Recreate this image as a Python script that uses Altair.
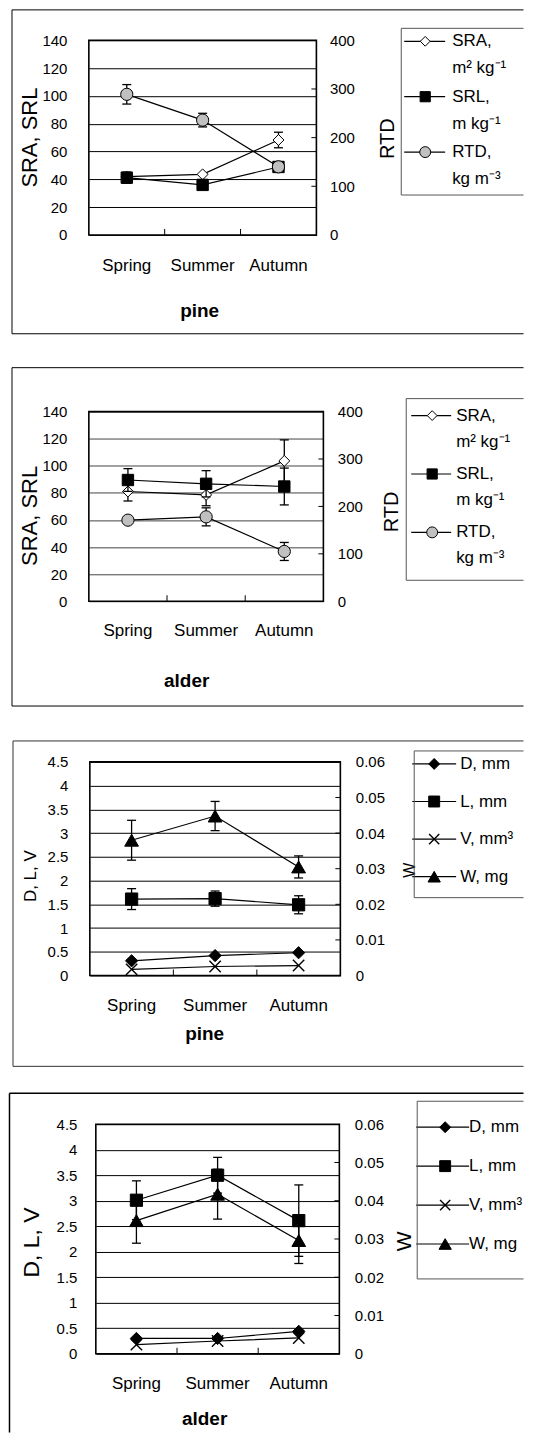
import altair as alt
import pandas as pd

FONT = "Liberation Sans"
PAGE_LEFT = 8.5
PAGE_RIGHT = 524.5
VIEW_LEFT = 89   # common left edge of every panel's view
VIEW_W = 252     # common view width (plot areas are drawn inside it)

# ---------------- data ----------------
seasons = ["Spring", "Summer", "Autumn"]
season_pos = [0, 1, 2]
boundaries = [0.5, 1.5]

# pine: specific root area, specific root length, root tissue density
pine_sra = [41.9, 43.6, 68.3]
pine_sra_err = [0, 0, 5.6]
pine_srl = [41.2, 36.0, 48.9]
pine_srl_err = [4.0, 0, 0]
pine_rtd = [289, 236, 140]
pine_rtd_err = [20, 14, 0]

# alder
alder_sra = [81.0, 78.5, 103.6]
alder_sra_err = [7.0, 8.0, 15.5]
alder_srl = [89.5, 86.7, 84.7]
alder_srl_err = [8.4, 9.7, 13.6]
alder_rtd = [171, 178, 105]
alder_rtd_err = [4, 19, 19]

# pine: D, L, V (left axis) and W (right axis)
pine_d = [0.31, 0.42, 0.48]
pine_l = [1.61, 1.62, 1.49]
pine_l_err = [0.22, 0.16, 0.19]
pine_v = [0.13, 0.19, 0.21]
pine_w = [0.0380, 0.0448, 0.0305]
pine_w_err = [0.0056, 0.0041, 0.0031]

# alder: D, L, V, W
alder_d = [0.30, 0.30, 0.44]
alder_l = [3.01, 3.50, 2.61]
alder_l_err = [0.38, 0.35, 0.70]
alder_v = [0.18, 0.25, 0.31]
alder_w = [0.0348, 0.0417, 0.0296]
alder_w_err = [0.0059, 0.0065, 0.0060]

# axis ticks
left_ticks_a = [0, 20, 40, 60, 80, 100, 120, 140]
right_ticks_a = [0, 100, 200, 300, 400]
left_ticks_b = [0, 0.5, 1, 1.5, 2, 2.5, 3, 3.5, 4, 4.5]
right_ticks_b = [0, 0.01, 0.02, 0.03, 0.04, 0.05, 0.06]

# legend texts
legend_a_keys = ["SRA", "SRL", "RTD"]
legend_a_names = ["SRA,", "SRL,", "RTD,"]
legend_a_units = ["m\u00b2 kg\u207b\u00b9", "m kg\u207b\u00b9", "kg m\u207b\u00b3"]
legend_b_keys = ["D", "L", "V", "W"]
legend_b_names = ["D, mm", "L, mm", "V, mm\u00b3", "W, mg"]
legend_b_units = ["", "", "", ""]

# ---------------- styles ----------------
CROSS = "M-1,-1L1,1M-1,1L1,-1"
STYLE = {
    "SRA": dict(shape="diamond", fill="white", size=120),
    "SRL": dict(shape="square", fill="black", size=130),
    "RTD": dict(shape="circle", fill="#c0c0c0", size=150),
    "D": dict(shape="diamond", fill="black", size=150),
    "L": dict(shape="square", fill="black", size=150),
    "V": dict(shape=CROSS, fill=None, size=130),
    "W": dict(shape="triangle-up", fill="black", size=190),
}


def marker_props(key, legend=False):
    st = STYLE[key]
    size = st["size"] * (0.8 if legend else 1.0)
    if st["fill"] is None:
        return dict(shape=st["shape"], filled=False, stroke="black",
                    strokeWidth=1.4, size=size, opacity=1)
    return dict(shape=st["shape"], filled=True, fill=st["fill"], stroke="black",
                strokeWidth=1, size=size, opacity=1)


def y_enc(field, scale, axis):
    return alt.Y(f"{field}:Q", scale=scale, axis=axis)


def series_layers(key, values, errs, xs, scale, axis):
    x = alt.X("pos:Q", scale=xs, axis=None)
    df = pd.DataFrame({"pos": season_pos, "value": values})
    out = [alt.Chart(df).mark_line(color="black", strokeWidth=1.2)
           .encode(x=x, y=y_enc("value", scale, axis))]
    if errs:
        pos, lo, hi = [], [], []
        for p, v, e in zip(season_pos, values, errs):
            if e > 0:
                pos.append(p)
                lo.append(v - e)
                hi.append(v + e)
        if pos:
            edf = pd.DataFrame({"pos": pos, "lo": lo, "hi": hi})
            out.append(alt.Chart(edf).mark_rule(color="black", strokeWidth=1.3)
                       .encode(x=x, y=y_enc("lo", scale, axis), y2="hi:Q"))
            cdf = pd.DataFrame({"pos": pos + pos, "cap": lo + hi})
            out.append(alt.Chart(cdf).mark_tick(orient="horizontal", size=9, thickness=1.3,
                                                color="black", opacity=1)
                       .encode(x=x, y=y_enc("cap", scale, axis)))
    out.append(alt.Chart(df).mark_point(**marker_props(key))
               .encode(x=x, y=y_enc("value", scale, axis)))
    return out


def legend_group(keys, names, units, g, L):
    n = len(keys)
    ldf = pd.DataFrame({"rank": list(range(n)), "key": keys, "name": names, "unit": units})
    ox, oy = VIEW_LEFT, g["top"]
    ys = alt.Scale(domain=[0, n - 1], range=[L["rows"][0] - oy, L["rows"][1] - oy],
                   nice=False, zero=False)
    y = alt.Y("rank:Q", scale=ys, axis=None)
    base = alt.Chart(ldf)
    limit = PAGE_RIGHT - 0.5 - L["text"]
    layers = [base.mark_rule(color="black", strokeWidth=1.2).encode(
        x=alt.value(L["line"][0] - ox), x2=alt.value(L["line"][1] - ox), y=y)]
    for k in keys:
        layers.append(base.transform_filter(alt.datum.key == k)
                      .mark_point(**marker_props(k, True))
                      .encode(x=alt.value(L["sym"] - ox), y=y))
    layers.append(base.mark_text(align="left", baseline="middle", font=FONT,
                                 fontSize=L["fs"], color="black", limit=limit, ellipsis="\u200b")
                  .encode(x=alt.value(L["text"] - ox), y=y, text="name:N"))
    if any(units):
        layers.append(base.mark_text(align="left", baseline="middle", font=FONT,
                                     fontSize=L["fs"], color="black", dy=L["unit_dy"],
                                     limit=limit, ellipsis="\u200b")
                      .encode(x=alt.value(L["text"] - ox), y=y, text="unit:N"))
    return alt.layer(*layers)


def frame_group(g):
    # plot-area border, drawn as a mark inside the common-width view
    one = alt.Chart(pd.DataFrame({"d": [0]}))
    return one.mark_rect(fillOpacity=0, stroke="black", strokeWidth=1.6).encode(
        x=alt.value(g["left"] - VIEW_LEFT), x2=alt.value(g["right"] - VIEW_LEFT),
        y=alt.value(0), y2=alt.value(g["h"]))


def deco_group(g, xs, F, B, label, label_xy):
    ox, oy, h = VIEW_LEFT, g["top"], g["h"]
    one = alt.Chart(pd.DataFrame({"d": [0]}))
    V = alt.value
    layers = []
    # invisible extent of the panel slot
    layers.append(one.mark_rule(color="white", strokeOpacity=0).encode(
        x=V(PAGE_LEFT - ox), x2=V(PAGE_RIGHT - ox),
        y=V(g["slot"][0] - oy), y2=V(g["slot"][1] - oy)))
    # outer frame (open on the right, cut by the page)
    fr = dict(color=F["color"], strokeWidth=F["width"])
    layers.append(one.mark_rule(**fr).encode(x=V(F["left"] - ox), x2=V(PAGE_RIGHT - ox), y=V(F["top"] - oy)))
    layers.append(one.mark_rule(**fr).encode(x=V(F["left"] - ox), y=V(F["top"] - oy), y2=V(F["bottom"] - oy)))
    if F.get("closed", True):
        layers.append(one.mark_rule(**fr).encode(x=V(F["left"] - ox), x2=V(PAGE_RIGHT - ox), y=V(F["bottom"] - oy)))
    # legend box
    bx = dict(color="#555555", strokeWidth=1)
    layers.append(one.mark_rule(**bx).encode(x=V(B["left"] - ox), x2=V(PAGE_RIGHT - ox), y=V(B["top"] - oy)))
    layers.append(one.mark_rule(**bx).encode(x=V(B["left"] - ox), y=V(B["top"] - oy), y2=V(B["bottom"] - oy)))
    layers.append(one.mark_rule(**bx).encode(x=V(B["left"] - ox), x2=V(PAGE_RIGHT - ox), y=V(B["bottom"] - oy)))
    # category separator ticks
    layers.append(alt.Chart(pd.DataFrame({"b": boundaries})).mark_rule(color="black", strokeWidth=1)
                  .encode(x=alt.X("b:Q", scale=xs, axis=None), y=V(h), y2=V(h - 6)))
    # season labels
    layers.append(alt.Chart(pd.DataFrame({"pos": season_pos, "season": seasons}))
                  .mark_text(font=FONT, fontSize=17, color="black", align="center", baseline="middle")
                  .encode(x=alt.X("pos:Q", scale=xs, axis=None), y=V(h + g["season_off"]),
                          text="season:N"))
    # panel label
    layers.append(one.mark_text(text=label, font=FONT, fontSize=19, fontWeight="bold", color="black",
                                align="center", baseline="middle")
                  .encode(x=V(label_xy[0] - ox), y=V(label_xy[1] - oy)))
    return alt.layer(*layers)


def axis_def(title, values, fmt, orient, label_pad, title_xy, title_size, grid,
             grid_color="black", offset=0):
    return alt.Axis(title=title, values=values, format=fmt, orient=orient, offset=offset,
                    grid=grid, gridColor=grid_color, gridWidth=1, gridOpacity=1,
                    ticks=False, domain=False, labelOverlap=False,
                    labelFont=FONT, labelFontSize=15, labelColor="black", labelPadding=label_pad,
                    titleFont=FONT, titleFontSize=title_size, titleFontWeight="normal",
                    titleColor="black", titleAngle=270, titleAlign="center",
                    titleBaseline="middle", titleX=title_xy[0], titleY=title_xy[1])


def make_panel(g, left_series, right_series, laxis, lscale, raxis, rscale, right_inner,
               legend, F, B, label, label_xy):
    pr = g["right"] - VIEW_LEFT
    xs = alt.Scale(domain=[-0.5, 2.5], range=[g["left"] - VIEW_LEFT, pr], nice=False, zero=False)
    left_layers = []
    for key, vals, errs in left_series:
        left_layers += series_layers(key, vals, errs, xs, lscale, laxis)
    right_layers = [alt.Chart(pd.DataFrame({"t": right_inner})).mark_rule(color="black", strokeWidth=1)
                    .encode(x=alt.value(pr - 5), x2=alt.value(pr), y=y_enc("t", rscale, raxis))]
    for key, vals, errs in right_series:
        right_layers += series_layers(key, vals, errs, xs, rscale, raxis)
    return alt.layer(
        frame_group(g),
        alt.layer(*left_layers),
        alt.layer(*right_layers),
        legend,
        deco_group(g, xs, F, B, label, label_xy),
    ).resolve_scale(y="independent").properties(width=VIEW_W, height=g["h"])


def right_offset(g):
    return (g["right"] - VIEW_LEFT) - VIEW_W


# ---------------- panel 1: pine SRA/SRL/RTD ----------------
g1 = dict(left=89, right=317, top=39, h=195, slot=(8, 350), season_off=31)
p1 = make_panel(
    g1,
    [("SRA", pine_sra, pine_sra_err), ("SRL", pine_srl, pine_srl_err)],
    [("RTD", pine_rtd, pine_rtd_err)],
    axis_def("SRA, SRL", left_ticks_a, "d", "left", 22, (30 - VIEW_LEFT, 97), 22, True),
    alt.Scale(domain=[0, 140], nice=False, zero=False),
    axis_def("RTD", right_ticks_a, "d", "right", 13, (388 - 317, 98), 20, False, offset=right_offset(g1)),
    alt.Scale(domain=[0, 400], nice=False, zero=False),
    right_ticks_a[1:-1],
    legend_group(legend_a_keys, legend_a_names, legend_a_units, g1,
                 dict(rows=(40, 151), line=(405, 446), sym=426, text=453, fs=17, unit_dy=27)),
    dict(left=12, top=8.5, bottom=333, color="black", width=1),
    dict(left=402, top=27, bottom=194),
    "pine", (200, 310),
)

# ---------------- panel 2: alder SRA/SRL/RTD ----------------
g2 = dict(left=89, right=324, top=411, h=190, slot=(350, 724), season_off=30)
p2 = make_panel(
    g2,
    [("SRA", alder_sra, alder_sra_err), ("SRL", alder_srl, alder_srl_err)],
    [("RTD", alder_rtd, alder_rtd_err)],
    axis_def("SRA, SRL", left_ticks_a, "d", "left", 22, (30 - VIEW_LEFT, 104), 22, True, "#444444"),
    alt.Scale(domain=[0, 140], nice=False, zero=False),
    axis_def("RTD", right_ticks_a, "d", "right", 14, (392 - 324, 100), 20, False, offset=right_offset(g2)),
    alt.Scale(domain=[0, 400], nice=False, zero=False),
    right_ticks_a[1:-1],
    legend_group(legend_a_keys, legend_a_names, legend_a_units, g2,
                 dict(rows=(415, 532), line=(412, 452), sym=433, text=457, fs=17, unit_dy=26)),
    dict(left=12, top=367, bottom=706, color="black", width=1),
    dict(left=407, top=398, bottom=580),
    "alder", (187, 681),
)

# ---------------- panel 3: pine D/L/V/W ----------------
g3 = dict(left=90, right=341, top=762, h=214, slot=(724, 1080), season_off=31)
p3 = make_panel(
    g3,
    [("D", pine_d, None), ("L", pine_l, pine_l_err), ("V", pine_v, None)],
    [("W", pine_w, pine_w_err)],
    axis_def("D, L, V", left_ticks_b, "~g", "left", 21, (31 - VIEW_LEFT, 114), 17, True),
    alt.Scale(domain=[0, 4.5], nice=False, zero=False),
    axis_def("W", right_ticks_b, "~g", "right", 15, (410 - 341, 108), 16, False, offset=right_offset(g3)),
    alt.Scale(domain=[0, 0.06], nice=False, zero=False),
    right_ticks_b[1:-1],
    legend_group(legend_b_keys, legend_b_names, legend_b_units, g3,
                 dict(rows=(764, 877), line=(413, 457), sym=435, text=461, fs=17, unit_dy=0)),
    dict(left=13, top=741, bottom=1067, color="#333333", width=1),
    dict(left=415, top=751, bottom=898),
    "pine", (205, 1035),
)

# ---------------- panel 4: alder D/L/V/W ----------------
g4 = dict(left=96, right=340, top=1125, h=230, slot=(1080, 1434), season_off=30)
p4 = make_panel(
    g4,
    [("D", alder_d, None), ("L", alder_l, alder_l_err), ("V", alder_v, None)],
    [("W", alder_w, alder_w_err)],
    axis_def("D, L, V", left_ticks_b, "~g", "left", 12, (32 - VIEW_LEFT, 118), 23, True),
    alt.Scale(domain=[0, 4.5], nice=False, zero=False),
    axis_def("W", right_ticks_b, "~g", "right", 15, (405 - 340, 117), 21, False, offset=right_offset(g4)),
    alt.Scale(domain=[0, 0.06], nice=False, zero=False),
    right_ticks_b[1:-1],
    legend_group(legend_b_keys, legend_b_names, legend_b_units, g4,
                 dict(rows=(1128, 1245), line=(417, 470), sym=446, text=470, fs=17, unit_dy=0)),
    dict(left=9.5, top=1094, bottom=1434, color="black", width=1.5, closed=False),
    dict(left=418, top=1102, bottom=1280),
    "alder", (205, 1420),
)

chart = (
    alt.vconcat(p1, p2, p3, p4, spacing=0)
    .properties(padding={"left": 0, "right": 0, "top": 0, "bottom": 0}, background="white")
    .configure_view(stroke=None)
    .configure_concat(spacing=0)
)

chart.save("out.html", embed_options={"renderer": "svg", "actions": False})
